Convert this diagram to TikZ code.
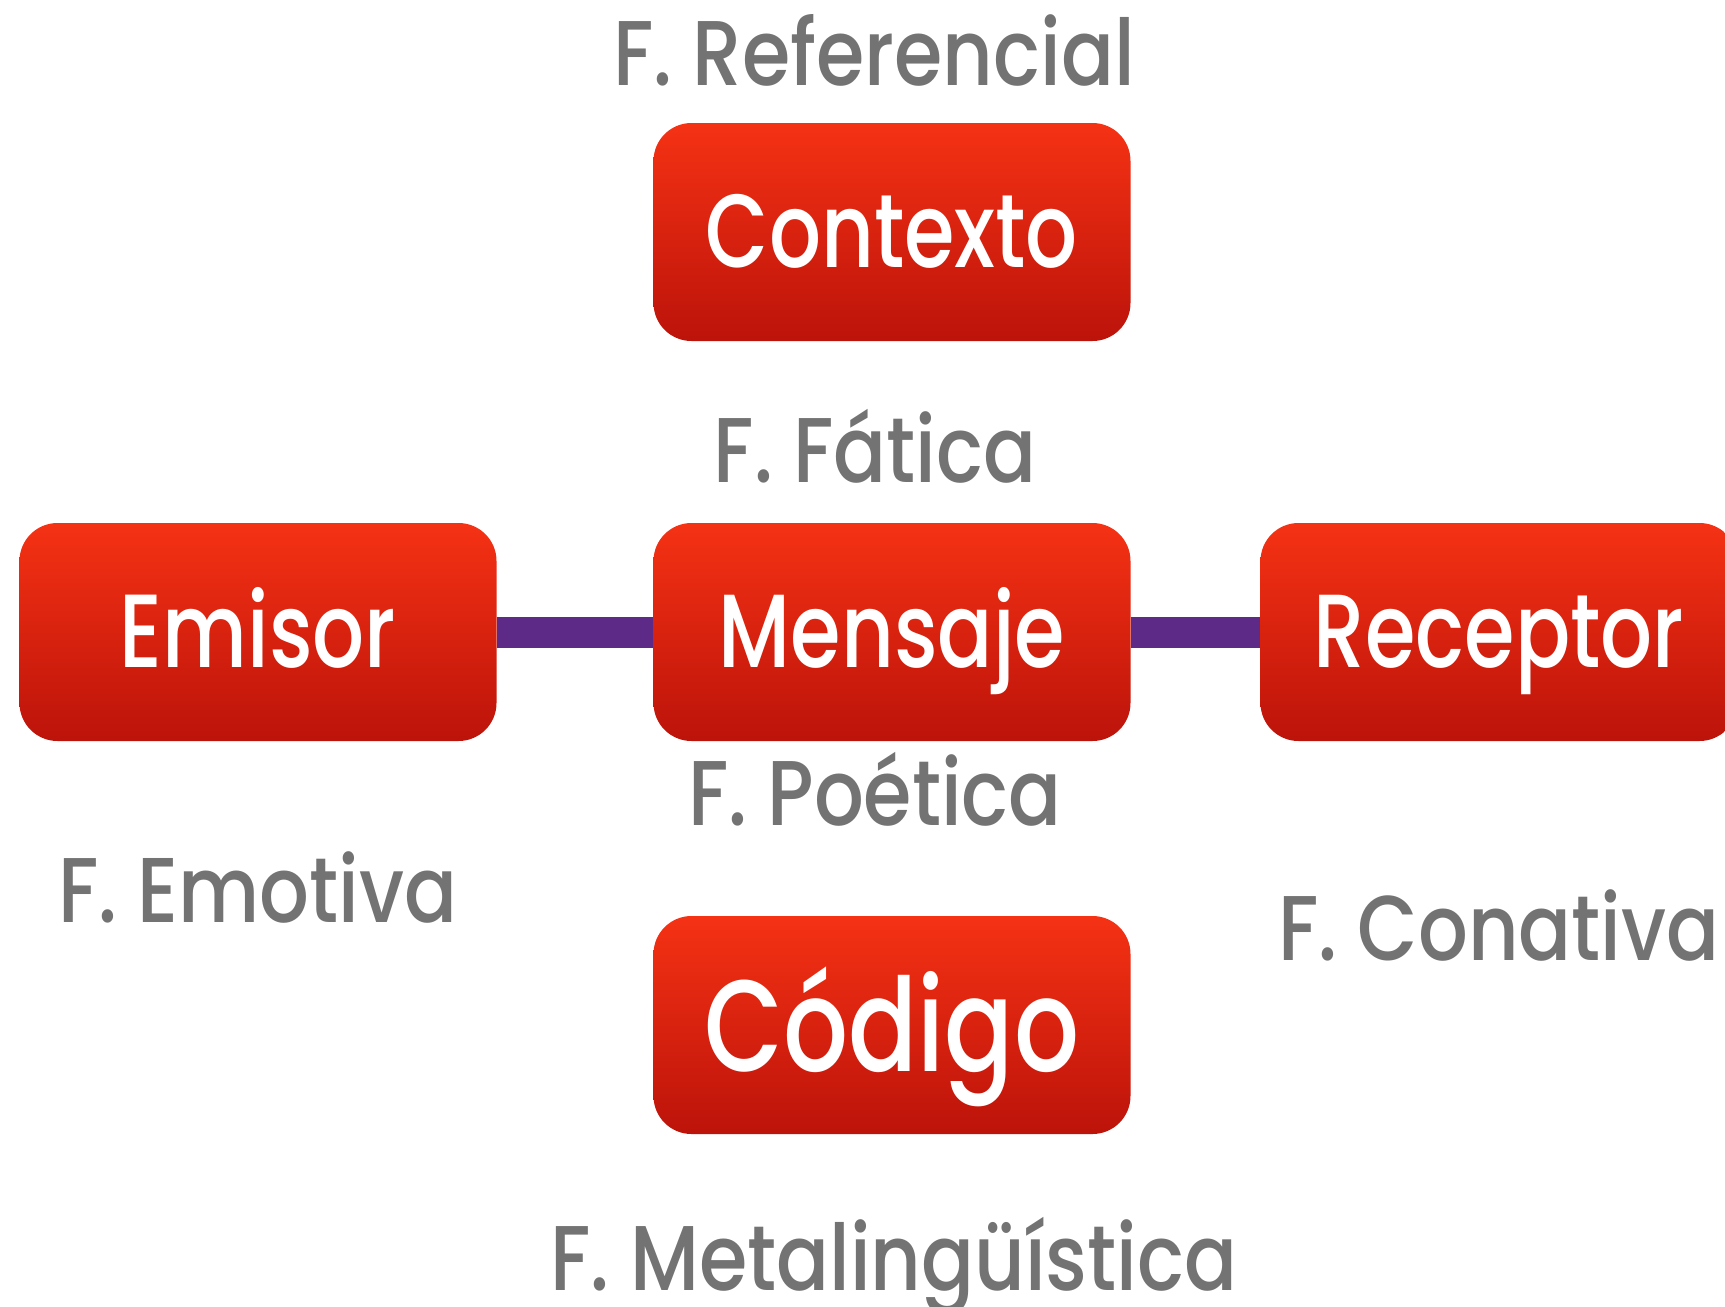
\documentclass[tikz,border=0pt]{standalone}
\usepackage{fontspec}
\setmainfont{Poppins Medium}[FakeStretch=0.85]
\newfontfamily\boxfont{Poppins Medium}[FakeStretch=0.785]
\usepackage{tikz}
\definecolor{boxtop}{HTML}{F53214}
\definecolor{boxbot}{HTML}{BC130A}
\definecolor{bar}{HTML}{5E2A88}
\definecolor{fgray}{HTML}{737373}

\begin{document}
\begin{tikzpicture}[x=0.5pt, y=-0.5pt,
    box/.style = {rectangle, rounded corners=19pt, top color=boxtop, bottom color=boxbot,
                  minimum width=238.5pt, minimum height=109pt, text=white,
                  font=\boxfont\fontsize{52}{54}\selectfont, text height=35.5pt, text depth=0pt},
    func/.style = {anchor=base, text=fgray, font=\fontsize{46}{48}\selectfont},
    link/.style = {bar, line width=15.5pt}]
        \useasboundingbox (0,0) rectangle (1725,1307);
        \node[box] (msj) at (892,632) {Mensaje};
        \node[box] (ctx) [above of=msj, node distance=200pt] {Contexto};
        \node[box] (emi) [left of=msj, node distance=317pt] {Emisor};
        \node[box] (rec) [right of=msj, node distance=303.5pt] {Receptor};
        \node[box, font=\boxfont\fontsize{65}{67}\selectfont, text height=46pt] (cod) [below of=msj, node distance=196.5pt] {Código};
        \draw[link] (emi) -- (msj);
        \draw[link] (msj) -- (rec);
        % funciones
        \node[func] (fref) at (874,85) {F. Referencial};
        \node[func] (ffat) at (875,482) {F. Fática};
        \node[func] (fpoe) at (875,825) {F. Poética};
        \node[func] (femo) at (258,922) {F. Emotiva};
        \node[func] (fcon) at (1499,960) {F. Conativa};
        \node[func] (fmet) at (894,1290) {F. Metalingüística};
    \end{tikzpicture}
\end{document}
